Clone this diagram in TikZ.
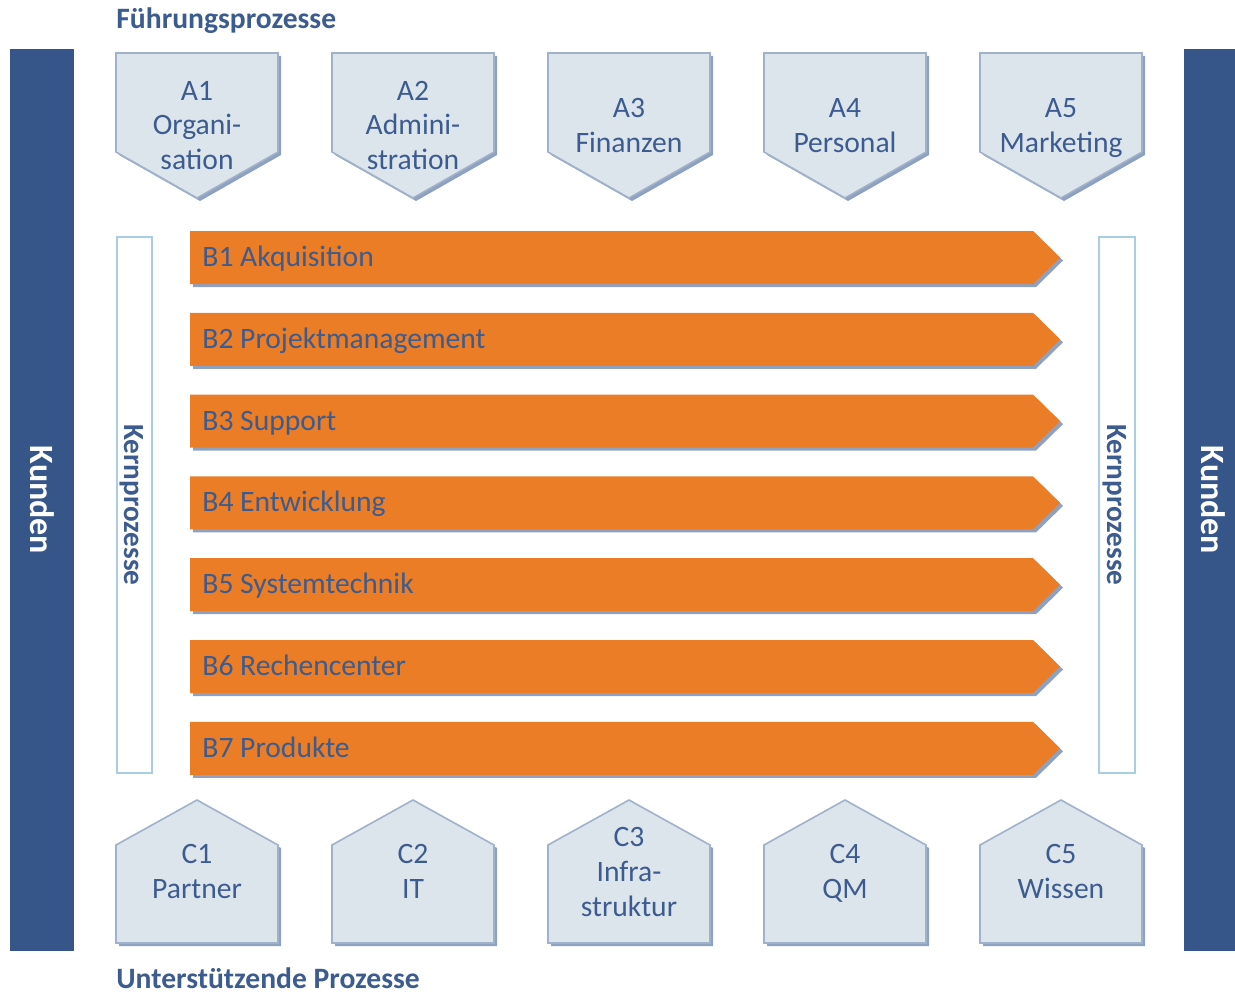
\documentclass[tikz,border=0pt]{standalone}
\usepackage{fontspec}
\setmainfont{Carlito}
\definecolor{barblue}{HTML}{36568A}
\definecolor{txtblue}{HTML}{3C5B8F}
\definecolor{pfill}{HTML}{DCE5EC}
\definecolor{pdraw}{HTML}{9FB2CA}
\definecolor{shad}{HTML}{8FA1C0}
\definecolor{orng}{HTML}{EB7D26}
\definecolor{kbox}{HTML}{A9CDE2}
\begin{document}
\begin{tikzpicture}[x=0.5pt,y=-0.5pt,
  lbl/.style={text=txtblue,font=\fontsize{14.8}{17.5}\selectfont,align=center,inner sep=0pt},
  blbl/.style={text=txtblue,font=\fontsize{14.8}{17.5}\selectfont,inner sep=0pt,anchor=base west},
  head/.style={text=txtblue,font=\bfseries\fontsize{14.8}{17.5}\selectfont,inner sep=0pt,anchor=base west},
  kun/.style={text=white,font=\bfseries\fontsize{17}{20}\selectfont,inner sep=0pt,rotate=-90},
  kern/.style={text=txtblue,font=\bfseries\fontsize{14.6}{17}\selectfont,inner sep=0pt,rotate=-90},
  pent/.style={fill=pfill,draw=pdraw,line width=0.8pt,line join=miter},
  shadowfill/.style={fill=shad},
  arrowfill/.style={fill=orng},
  kernbox/.style={draw=kbox,fill=white,line width=0.7pt},
  bar/.style={fill=barblue}]
\useasboundingbox (0,0) rectangle (1235,995);

% customer bars
\fill[bar] (10,49) rectangle (74,951);
\fill[bar] (1184,49) rectangle (1250,951);
\node[kun] (kunl) at (42,500) {Kunden};
\node[kun] (kunr) at (1213,500) {Kunden};

% headers
\node[head] (head1) at (116,29) {Führungsprozesse};
\node[head] (head2) at (116,988) {Unterstützende Prozesse};

% top pentagons
\foreach \i/\n/\t in {0/1/{\strut A1\\\strut Organi-\\\strut sation},1/2/{\strut A2\\\strut Admini-\\\strut stration},2/3/{\strut A3\\\strut Finanzen},3/4/{\strut A4\\\strut Personal},4/5/{\strut A5\\\strut Marketing}}{
  \fill[shadowfill] ({116+216*\i+3},56) -- ({116+216*\i+165},56) -- ({116+216*\i+165},155) -- ({116+216*\i+84},201) -- ({116+216*\i+3},155) -- cycle;
  \draw[pent] ({116+216*\i},53) -- ({116+216*\i+162},53) -- ({116+216*\i+162},152) -- ({116+216*\i+81},198) -- ({116+216*\i},152) -- cycle;
  \node[lbl] (a\n) at ({116+216*\i+81},128) {\t};
}

% bottom pentagons
\foreach \i/\n/\t in {0/1/{\strut C1\\\strut Partner},1/2/{\strut C2\\\strut IT},2/3/{\strut C3\\\strut Infra-\\\strut struktur},3/4/{\strut C4\\\strut QM},4/5/{\strut C5\\\strut Wissen}}{
  \fill[shadowfill] ({116+216*\i+3},946) -- ({116+216*\i+3},848) -- ({116+216*\i+84},803) -- ({116+216*\i+165},848) -- ({116+216*\i+165},946) -- cycle;
  \draw[pent] ({116+216*\i},943) -- ({116+216*\i},845) -- ({116+216*\i+81},800) -- ({116+216*\i+162},845) -- ({116+216*\i+162},943) -- cycle;
  \node[lbl] (c\n) at ({116+216*\i+81},874) {\t};
}

% core process boxes
\draw[kernbox] (117,237) rectangle (152,773);
\draw[kernbox] (1099,237) rectangle (1135,773);
\node[kern] (kl) at (132,505) {Kernprozesse};
\node[kern] (kr) at (1115,505) {Kernprozesse};

% core process arrows
\foreach \i/\n/\t in {0/1/{B1 Akquisition},1/2/{B2 Projektmanagement},2/3/{B3 Support},3/4/{B4 Entwicklung},4/5/{B5 Systemtechnik},5/6/{B6 Rechencenter},6/7/{B7 Produkte}}{
  \fill[shadowfill] (193,{257.5+81.8*\i-26.5+3}) -- (1036,{257.5+81.8*\i-26.5+3}) -- (1063,{257.5+81.8*\i+3}) -- (1036,{257.5+81.8*\i+26.5+3}) -- (193,{257.5+81.8*\i+26.5+3}) -- cycle;
  \fill[arrowfill] (190,{257.5+81.8*\i-26.5}) -- (1033,{257.5+81.8*\i-26.5}) -- (1060,{257.5+81.8*\i}) -- (1033,{257.5+81.8*\i+26.5}) -- (190,{257.5+81.8*\i+26.5}) -- cycle;
  \node[blbl] (b\n) at (202,{257.5+81.8*\i+9}) {\t};
}
\end{tikzpicture}
\end{document}
